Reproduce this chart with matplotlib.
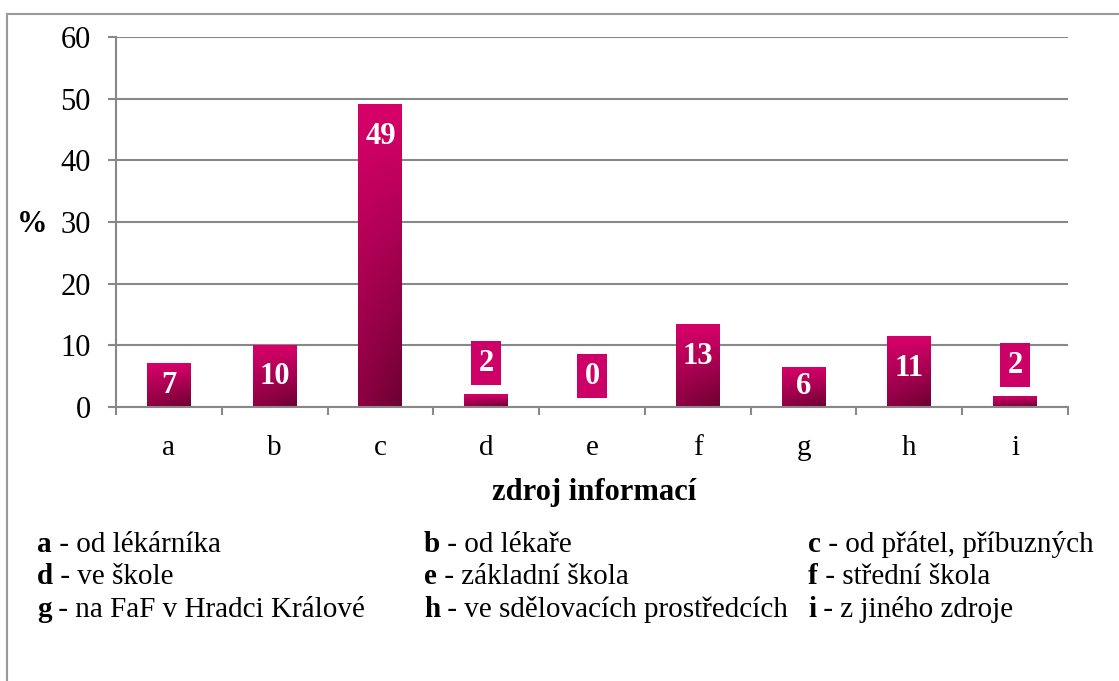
import matplotlib
matplotlib.use('Agg')
import matplotlib.pyplot as plt
import numpy as np
from matplotlib.lines import Line2D
from matplotlib.colors import to_rgb

# chart data
CATEGORIES = ['a', 'b', 'c', 'd', 'e', 'f', 'g', 'h', 'i']
VALUES = [7.1, 10.0, 49.1, 2.1, 0.0, 13.4, 6.5, 11.5, 1.8]
VALUE_LABELS = ['7', '10', '49', '2', '0', '13', '6', '11', '2']
Y_TICKS = [0, 10, 20, 30, 40, 50, 60]
LEGEND = [
    ('a', 'od lékárníka'), ('b', 'od lékaře'), ('c', 'od přátel, příbuzných'),
    ('d', 've škole'), ('e', 'základní škola'), ('f', 'střední škola'),
    ('g', 'na FaF v Hradci Králové'), ('h', 've sdělovacích prostředcích'), ('i', 'z jiného zdroje'),
]

TOP_C = to_rgb('#d8006a')
BOT_C = to_rgb('#6c0031')
BOX_C = '#cc0066'
GRID_C = '#888888'

plt.rcParams['font.family'] = ['Liberation Serif', 'DejaVu Serif']

W, H = 1119, 681
fig = plt.figure(figsize=(W / 100, H / 100), dpi=100)
fig.patch.set_facecolor('white')


def fx(px):
    return px / W


def fy(py):
    return 1 - py / H


ax = fig.add_axes([fx(116), fy(407), fx(1068 - 116), (407 - 37) / H])

# outer frame (only left and top edges visible)
fig.add_artist(Line2D([fx(7), fx(7)], [fy(13.5), 0], color='#999999', lw=1.5))
fig.add_artist(Line2D([fx(7), 1], [fy(13.5), fy(13.5)], color='#999999', lw=1.5))

x = np.arange(len(CATEGORIES))
bars = ax.bar(x, VALUES, width=0.415, color=TOP_C, zorder=3)

# gradient fill: pink on top, dark at the bottom right
ny, nx = 100, 40
yy, xx = np.mgrid[0:1:ny * 1j, 0:1:nx * 1j]
t = np.clip(yy * (0.7 + 0.3 * xx), 0, 1)
grad = np.empty((ny, nx, 3))
for k in range(3):
    grad[..., k] = TOP_C[k] + (BOT_C[k] - TOP_C[k]) * t
for b, v in zip(bars, VALUES):
    if v <= 0:
        continue
    x0 = b.get_x()
    im = ax.imshow(grad, extent=[x0, x0 + b.get_width(), 0, v], aspect='auto',
                   zorder=3, interpolation='bilinear')
    im.set_clip_path(b)

# value labels
for xi, v, lab in zip(x, VALUES, VALUE_LABELS):
    if v >= 5:
        ax.text(xi, max(v - 5.2, v / 2), lab, ha='center', va='center',
                color='white', fontsize=22, fontweight='bold', zorder=5)
    else:
        ax.text(xi, v + 5, lab, ha='center', va='center', color='white',
                fontsize=22, fontweight='bold', zorder=5,
                bbox=dict(boxstyle='square,pad=0.25', fc=BOX_C, ec='none'))

ax.set_xlim(-0.5, len(CATEGORIES) - 0.5)
ax.set_ylim(0, 60)
ax.set_yticks(Y_TICKS)
ax.set_yticklabels([str(v) for v in Y_TICKS], fontsize=22)
ax.set_xticks(x)
ax.set_xticklabels(CATEGORIES, fontsize=21)
ax.set_xticks(np.arange(len(CATEGORIES) + 1) - 0.5, minor=True)
ax.tick_params(axis='x', which='major', length=0, pad=20)
ax.tick_params(axis='x', which='minor', length=6, width=1.5, color=GRID_C, direction='out')
ax.tick_params(axis='y', length=6, width=1.5, color=GRID_C, direction='out', pad=12)

ax.yaxis.grid(True, color=GRID_C, lw=1.5, zorder=1)
ax.set_axisbelow(True)
for loc in ['top', 'right']:
    ax.spines[loc].set_visible(False)
for loc in ['left', 'bottom']:
    ax.spines[loc].set_color(GRID_C)
    ax.spines[loc].set_linewidth(1.5)
    ax.spines[loc].set_zorder(4)

fig.text(fx(32), fy(224), '%', fontsize=22, fontweight='bold', ha='center', va='center')
fig.text(fx(594), fy(500), 'zdroj informací', fontsize=22, fontweight='bold',
         ha='center', va='baseline')

# legend block below the axis
col_x = [37, 424, 808]
row_y = [552, 584, 617]
fig.canvas.draw()
renderer = fig.canvas.get_renderer()
for i, (letter, desc) in enumerate(LEGEND):
    r, c = divmod(i, 3)
    t1 = fig.text(fx(col_x[c]), fy(row_y[r]), letter, fontsize=21, fontweight='bold',
                  va='baseline', ha='left')
    bb = t1.get_window_extent(renderer)
    fig.text(bb.x1 / W, fy(row_y[r]), ' - ' + desc, fontsize=21, va='baseline', ha='left')

fig.savefig('out.png', dpi=100, facecolor='white')
